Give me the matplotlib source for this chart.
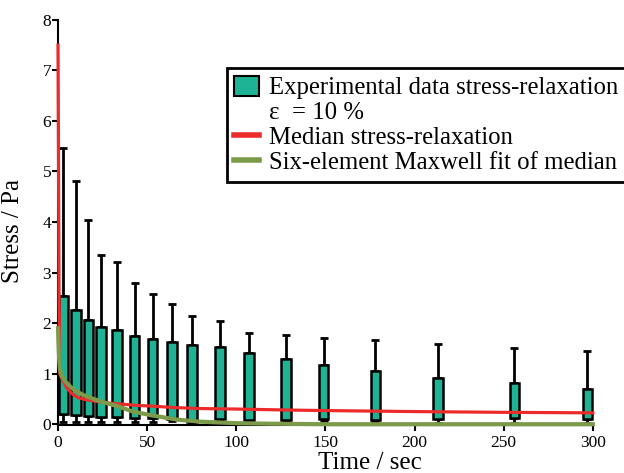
import numpy as np
import matplotlib
matplotlib.use("Agg")
import matplotlib.pyplot as plt
from matplotlib.patches import Patch
from matplotlib.lines import Line2D

plt.rcParams['font.family'] = ['Liberation Serif', 'DejaVu Serif']

# box positions (sec) and stats
times = [3, 10, 17, 24, 33, 43, 53, 64, 75, 91, 107, 128, 149, 178, 213, 256, 297]
q3 = [2.54, 2.26, 2.06, 1.93, 1.86, 1.75, 1.68, 1.63, 1.57, 1.53, 1.40, 1.30, 1.18, 1.06, 0.92, 0.81, 0.69]
q1 = [0.21, 0.19, 0.16, 0.15, 0.14, 0.13, 0.12, 0.10, 0.05, 0.10, 0.08, 0.08, 0.10, 0.09, 0.11, 0.12, 0.11]
whisk_hi = [5.46, 4.81, 4.04, 3.35, 3.21, 2.80, 2.57, 2.37, 2.15, 2.04, 1.81, 1.76, 1.70, 1.66, 1.58, 1.50, 1.45]
whisk_lo = [0.05, 0.05, 0.05, 0.05, 0.05, 0.04, 0.04, 0.07, 0.02, 0.06, 0.05, 0.05, 0.06, 0.05, 0.02, 0.03, 0.03]

# median curve
t_med = [0, 0.3, 0.6, 1, 2, 3, 5, 8, 11, 15, 20, 28, 35, 45, 52, 65, 80, 100, 130, 150, 200, 250, 300]
s_med = [7.5, 5.0, 2.4, 1.0, 0.92, 0.85, 0.71, 0.6, 0.53, 0.49, 0.46, 0.42, 0.40, 0.37, 0.36, 0.33, 0.31, 0.30, 0.28, 0.27, 0.25, 0.235, 0.225]

# six-element maxwell fit
t_fit = [0, 0.3, 0.6, 1, 1.5, 2, 4, 7, 10, 14, 20, 25, 33, 42, 52, 60, 67, 80, 100, 120, 150, 200, 300]
s_fit = [1.9, 1.55, 1.3, 1.12, 1.02, 0.96, 0.85, 0.74, 0.66, 0.58, 0.50, 0.44, 0.36, 0.25, 0.18, 0.13, 0.09, 0.05, 0.02, 0.01, 0.0, 0.0, 0.0]

teal = '#1db394'
red = '#ee2b2b'
green = '#7b9a4a'

times = np.array(times)
q3 = np.array(q3)
q1 = np.array(q1)
whisk_hi = np.array(whisk_hi)
whisk_lo = np.array(whisk_lo)

fig = plt.figure(figsize=(6.24, 4.73), dpi=100)
ax = fig.add_axes([0.093, 0.101, 0.857, 0.857])

ax.errorbar(times, q3, yerr=[np.zeros_like(q3), whisk_hi - q3], fmt='none',
            ecolor='black', elinewidth=2, capsize=3, capthick=2, zorder=2, clip_on=False)
ax.errorbar(times, q1, yerr=[q1 - whisk_lo, np.zeros_like(q1)], fmt='none',
            ecolor='black', elinewidth=2, capsize=3, capthick=2, zorder=2, clip_on=False)
ax.bar(times, q3 - q1, bottom=q1, width=5.4, color=teal, edgecolor='black',
       linewidth=1.8, zorder=3, clip_on=False)

ax.plot(t_med, s_med, color=red, lw=2.3, zorder=4, clip_on=False)
ax.plot(t_fit, s_fit, color=green, lw=3, zorder=5, clip_on=False)

ax.set_xlim(0, 300)
ax.set_ylim(-0.02, 8)
ax.set_xticks([0, 50, 100, 150, 200, 250, 300])
ax.set_yticks(range(0, 9))
ax.spines['top'].set_visible(False)
ax.spines['right'].set_visible(False)
for s in ['left', 'bottom']:
    ax.spines[s].set_linewidth(1.5)
ax.tick_params(direction='out', length=4, width=1.5, labelsize=12.5, pad=1)
ax.tick_params(axis='x', pad=3)
ax.set_xlabel('Time / sec', fontsize=18)
ax.xaxis.set_label_coords(0.583, -0.066)
ax.xaxis.label.set_va('top')
ax.set_ylabel('Stress / Pa', fontsize=18)
ax.yaxis.set_label_coords(-0.063, 0.479)

handles = [Patch(facecolor=teal, edgecolor='black', linewidth=1.5),
           Patch(facecolor='none', edgecolor='none'),
           Line2D([], [], color=red, lw=4),
           Line2D([], [], color=green, lw=4)]
labels = ['Experimental data stress-relaxation',
          'ε  = 10 %',
          'Median stress-relaxation',
          'Six-element Maxwell fit of median']
leg = ax.legend(handles, labels, loc='upper left', bbox_to_anchor=(0.316, 0.881),
                borderaxespad=0, fontsize=17.8, frameon=True, fancybox=False,
                edgecolor='black', framealpha=1, labelspacing=0.05,
                handlelength=1.0, handleheight=0.9, handletextpad=0.4,
                borderpad=0.3)
leg.get_frame().set_linewidth(2)

fig.savefig('out.png', dpi=100)
